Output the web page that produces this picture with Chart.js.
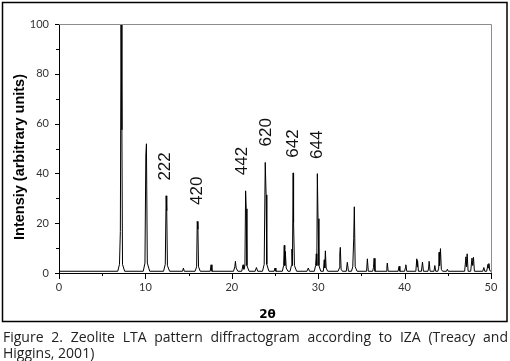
<!DOCTYPE html>
<html><head><meta charset="utf-8">
<script src="https://cdn.jsdelivr.net/npm/chart.js@4"></script>
<style>
html,body{margin:0;padding:0;background:#fff;}
#wrap{position:relative;width:510px;height:361px;overflow:hidden;background:#fff;}
#c{position:absolute;left:0;top:0;}
.cap{position:absolute;left:3px;width:505px;font-family:"Open Sans",sans-serif;font-size:14px;line-height:16px;color:#222;}
#cap1{top:329px;text-align:justify;text-align-last:justify;white-space:nowrap;}
#cap2{top:345px;}
</style></head><body>
<div id="wrap"><canvas id="c" width="510" height="361"></canvas>
<div class="cap" id="cap1">Figure 2. Zeolite LTA pattern diffractogram according to IZA (Treacy and</div>
<div class="cap" id="cap2">Higgins, 2001)</div></div>
<script>
// ---- data ----
const twoTheta = [0,6.8,7.0,7.1,7.18,7.28,7.35,7.6,
 9.75,9.95,10.05,10.12,10.22,10.5,
 12.1,12.3,12.4,12.47,12.55,12.8,
 14.3,14.4,14.5,
 15.75,15.93,16.0,16.08,16.15,16.35,
 17.5,17.6,17.7,
 20.2,20.35,20.42,20.5,20.7,
 21.15,21.3,21.4,21.52,21.6,21.67,21.75,22.0,
 22.7,22.85,23.0,
 23.55,23.75,23.87,23.97,24.05,24.3,
 24.9,25.0,25.1,
 25.85,26.0,26.07,26.13,26.19,26.3,26.5,
 26.75,26.9,26.96,27.02,27.1,27.15,27.25,27.5,
 28.7,28.85,29.0,
 29.55,29.7,29.78,29.84,29.9,29.98,30.08,30.3,
 30.6,30.7,30.76,30.83,30.92,31.1,
 32.3,32.45,32.5,32.56,32.65,32.8,
 33.25,33.37,33.5,
 33.85,34.0,34.11,34.18,34.28,34.5,
 35.6,35.69,35.8,
 36.3,36.4,36.47,36.57,
 37.85,37.95,38.0,38.1,
 39.25,39.36,39.45,
 40.0,40.08,40.14,40.25,
 41.3,41.41,41.46,41.5,41.6,
 41.95,42.07,42.18,
 42.7,42.78,42.84,42.95,
 43.4,43.5,43.6,
 43.85,43.95,43.99,44.05,44.15,44.25,44.4,
 44.85,44.95,45.05,
 46.95,47.1,47.16,47.24,47.35,
 47.65,47.8,47.88,47.97,48.08,
 49.05,49.17,49.28,
 49.5,49.65,49.7,49.76,49.85,50];
const intensity = [0.7,0.7,3.5,16.7,100,57.5,3.5,0.7,
 0.7,4,47.4,51.9,4,0.7,
 0.7,3.5,31,25,3,0.7,
 0.7,2,0.7,
 0.7,2.5,20.7,17.6,2.5,0.7,
 0.7,3.3,0.7,
 0.7,2.5,4.7,2,0.7,
 0.7,3.3,1.5,3,33,25.8,3,0.7,
 0.7,2.2,0.7,
 0.7,3.5,44.4,31.4,3.5,0.7,
 0.7,2,0.7,
 0.7,3,11.1,3,8.7,2,0.7,
 0.7,3,9.6,3,40.2,20.3,3,0.7,
 0.7,2,0.7,
 0.7,3,7.7,3,39.9,21.8,3,0.7,
 0.7,5.3,2,8.9,2,0.7,
 0.7,2,7.6,10.3,1.5,0.7,
 0.7,4.3,0.7,
 0.7,2.5,13.8,26.6,2.5,0.7,
 0.7,5.7,0.7,
 0.7,2.2,5.9,0.7,
 0.7,2.5,4.0,0.7,
 0.7,2.7,0.7,
 0.7,2,3.3,0.7,
 0.7,5.7,2.5,5.0,0.7,
 0.7,4.4,0.7,
 0.7,2,4.7,0.7,
 0.7,3.0,0.7,
 0.7,2,8.3,3,9.8,1.5,0.7,
 0.7,1.5,0.7,
 0.7,6.5,2.5,7.7,0.7,
 0.7,6.0,3,6.3,0.7,
 0.7,2.2,0.7,
 0.7,3.5,2,3.8,1,0.7];
const xTickValues = [0,10,20,30,40,50];
const xMinorTicks = [5,15,25,35,45];
const yTickValues = [0,20,40,60,80,100];
const yMinorTicks = [10,30,50,70,90];
const peakLabels = ['222','420','442','620','642','644'];
const peakLabelX = [12.25,15.96,21.23,23.99,27.08,29.84];
const peakLabelY = [42.8,33,45,56.5,52,51.5];
const xTitle = '2θ';
const yTitle = 'Intensiy (arbitrary units)';

const points = twoTheta.map((x,i)=>({x:x, y:intensity[i]}));

const decor = {
  id:'decor',
  afterDraw(chart){
    const ctx = chart.ctx, ca = chart.chartArea;
    const xs = chart.scales.x, ys = chart.scales.y;
    ctx.save();
    ctx.strokeStyle = '#8c8c8c'; ctx.lineWidth = 1;
    ctx.beginPath();
    ctx.moveTo(ca.left, Math.round(ca.top)+0.5); ctx.lineTo(Math.round(ca.right)+0.5, Math.round(ca.top)+0.5);
    ctx.lineTo(Math.round(ca.right)+0.5, Math.round(ca.bottom));
    ctx.stroke();
    ctx.strokeStyle = '#000';
    ctx.beginPath();
    xTickValues.forEach(v=>{const p=Math.round(xs.getPixelForValue(v))+0.5; ctx.moveTo(p, ca.bottom); ctx.lineTo(p, ca.bottom+6);});
    xMinorTicks.forEach(v=>{const p=Math.round(xs.getPixelForValue(v))+0.5; ctx.moveTo(p, ca.bottom); ctx.lineTo(p, ca.bottom+3);});
    yTickValues.forEach(v=>{const p=Math.round(ys.getPixelForValue(v))+0.5; ctx.moveTo(ca.left, p); ctx.lineTo(ca.left-4, p);});
    yMinorTicks.forEach(v=>{const p=Math.round(ys.getPixelForValue(v))+0.5; ctx.moveTo(ca.left, p); ctx.lineTo(ca.left-3, p);});
    ctx.stroke();
    ctx.fillStyle = '#111';
    ctx.font = '17px "Liberation Sans Narrow", "Liberation Sans", sans-serif';
    ctx.textAlign = 'center'; ctx.textBaseline = 'middle';
    peakLabels.forEach((t,i)=>{
      ctx.save();
      ctx.translate(xs.getPixelForValue(peakLabelX[i]), ys.getPixelForValue(peakLabelY[i]));
      ctx.rotate(-Math.PI/2);
      ctx.fillText(t,0,0);
      ctx.restore();
    });
    ctx.fillStyle = '#000';
    ctx.font = 'bold 12px "DejaVu Sans", sans-serif';
    ctx.fillText(xTitle, 267.5, 315);
    ctx.save();
    ctx.translate(20, 157);
    ctx.rotate(-Math.PI/2);
    ctx.font = 'bold 14.5px "Liberation Sans", sans-serif';
    ctx.fillText(yTitle, 0, 0);
    ctx.restore();
    ctx.strokeStyle = '#000'; ctx.lineWidth = 1.5;
    ctx.strokeRect(2.5, 2.5, 504.5, 319);
    ctx.restore();
  }
};

new Chart(document.getElementById('c').getContext('2d'), {
  type:'line',
  data:{datasets:[{data:points, borderColor:'#000', borderWidth:1, pointRadius:0, tension:0, fill:false}]},
  options:{
    responsive:false, animation:false, devicePixelRatio:1,
    layout:{padding:{left:0,right:19,top:24,bottom:0}},
    plugins:{legend:{display:false}, tooltip:{enabled:false}},
    scales:{
      x:{type:'linear', min:0, max:50,
         afterBuildTicks:s=>{s.ticks = xTickValues.map(v=>({value:v}));},
         afterFit:s=>{s.height = 88;},
         grid:{display:false, drawTicks:false},
         border:{color:'#000', width:1},
         ticks:{padding:8, maxRotation:0, color:'#333', font:{family:'Lato', size:11}}},
      y:{type:'linear', min:0, max:100,
         afterBuildTicks:s=>{s.ticks = yTickValues.map(v=>({value:v}));},
         afterFit:s=>{s.width = 59;},
         grid:{display:false, drawTicks:false},
         border:{color:'#000', width:1},
         ticks:{padding:10, color:'#333', font:{family:'Lato', size:11}}}
    }
  },
  plugins:[decor]
});
</script>
</body></html>
